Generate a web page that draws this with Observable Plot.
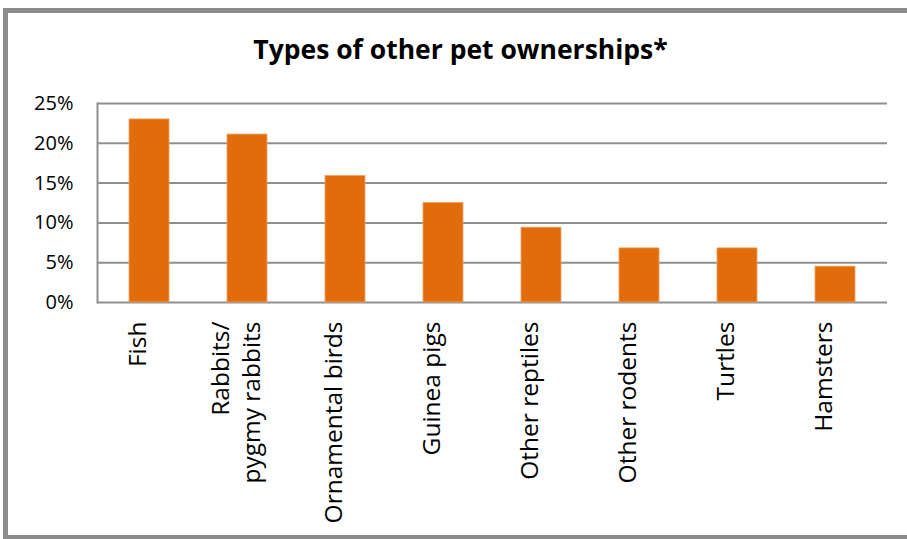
<!DOCTYPE html>
<html>
<head>
<meta charset="utf-8">
<script src="https://cdn.jsdelivr.net/npm/d3@7"></script>
<script src="https://cdn.jsdelivr.net/npm/@observablehq/plot@0.6"></script>
<style>
  html, body { margin: 0; padding: 0; background: #fff; width: 907px; height: 539px; overflow: hidden; }
  #frame { position: absolute; left: 3px; top: 8px; width: 960px; height: 532px; box-sizing: border-box;
           border: 5px solid #8c8c8c; border-right: none; }
  #title { position: absolute; left: 0; width: 921px; top: 34px; text-align: center;
           font-family: "Open Sans", sans-serif; font-weight: bold; font-size: 26.5px; line-height: 30px; color: #000; }
  #chart { position: absolute; left: 0; top: 0; }
</style>
</head>
<body>
<div id="frame"></div>
<div id="chart"></div>
<div id="title">Types of other pet ownerships*</div>
<script>
const categories = ["Fish", "Rabbits/\npygmy rabbits", "Ornamental birds", "Guinea pigs", "Other reptiles", "Other rodents", "Turtles", "Hamsters"];
const values = [23.0, 21.1, 15.9, 12.5, 9.4, 6.8, 6.8, 4.5];
const yTicks = [0, 5, 10, 15, 20, 25];
const tickLabels = ["0%", "5%", "10%", "15%", "20%", "25%"];

const data = categories.map((c, i) => ({category: c, value: values[i]}));

const chart = Plot.plot({
  width: 907,
  height: 539,
  marginLeft: 97,
  marginRight: 20,
  marginTop: 103,
  marginBottom: 237,
  style: {fontFamily: "Open Sans, sans-serif", background: "transparent", overflow: "visible"},
  x: {domain: categories, paddingInner: 0.595, paddingOuter: 0.2975, axis: null},
  y: {domain: [0, 25], axis: null},
  marks: [
    Plot.ruleY(yTicks, {stroke: "#8f8f8f", strokeWidth: 2}),
    Plot.barY(data, {x: "category", y: "value", fill: "#E36C0A", stroke: "#f0a464", strokeWidth: 0.8}),
    Plot.frame({anchor: "left", stroke: "#8f8f8f", strokeWidth: 2}),
    Plot.axisY({ticks: yTicks, tickFormat: (d) => tickLabels[yTicks.indexOf(d)], tickSize: 0, tickPadding: 24, fontSize: 20, color: "#000", fill: "#000", label: null}),
    Plot.text(data, {x: "category", y: 0, text: "category", rotate: -90, textAnchor: "end", lineAnchor: "middle",
      lineHeight: 1.25, fontSize: 24.5, fill: "#000", dy: 19, dx: -13})
  ]
});
document.getElementById("chart").appendChild(chart);
</script>
</body>
</html>
